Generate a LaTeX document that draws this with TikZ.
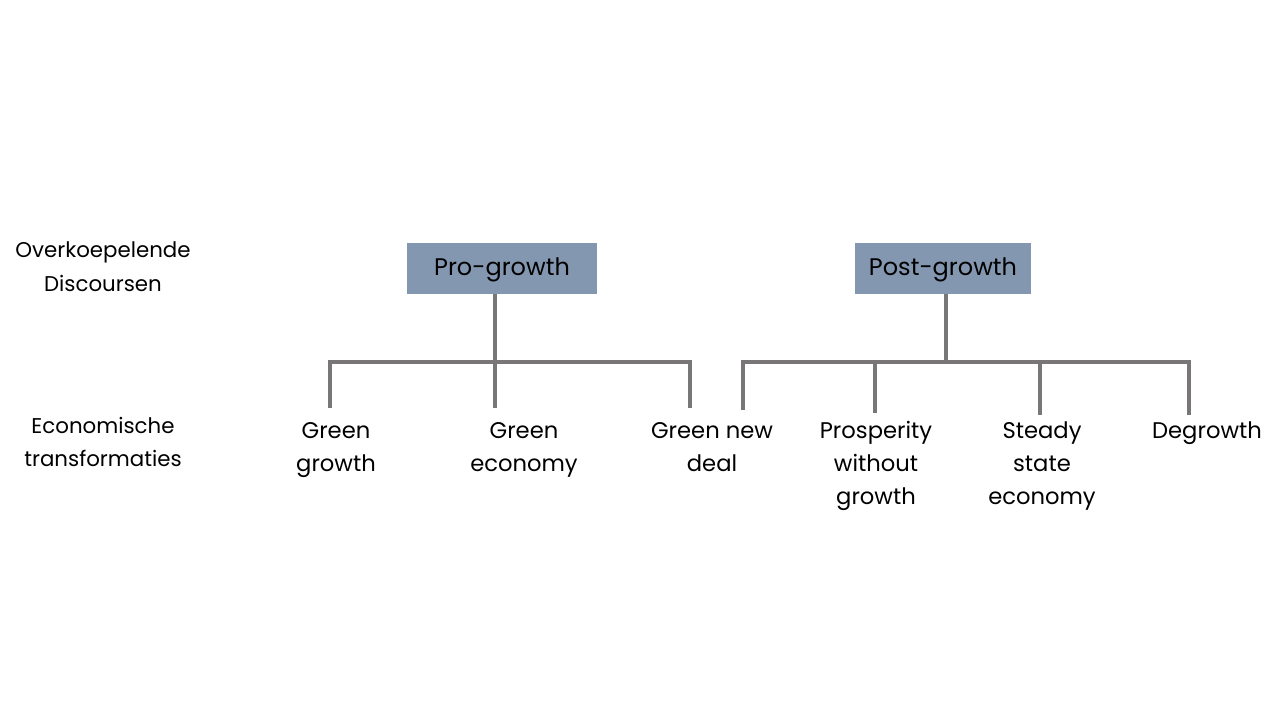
\documentclass[tikz,border=0pt]{standalone}
\usepackage{fontspec}
\setmainfont{Poppins}
\definecolor{boxblue}{RGB}{132,151,176}
\definecolor{linegray}{RGB}{120,118,118}
\tikzset{
  topbox/.style={fill=boxblue, minimum height=38.25pt, inner sep=0pt,
    text height=13pt, text depth=2pt, font=\fontsize{18}{22}\selectfont},
  branch/.style={draw=linegray, line width=3pt},
  leaf/.style={align=center, anchor=base, inner sep=0pt,
    font=\fontsize{17}{24.75}\selectfont},
  side/.style={align=center, anchor=base, inner sep=0pt,
    font=\fontsize{16}{24.75}\selectfont}
}
\begin{document}
\begin{tikzpicture}[x=0.75pt,y=-0.75pt]
	\useasboundingbox (0,0) rectangle (1280,720);
	% niveaus links
	\node[side] (lvltop) at (103,291) {Overkoepelende\\Discoursen};
	\node[side] (lvlbot) at (103,466) {Economische\\transformaties};
	% discoursen
	\node[topbox, minimum width=142.5pt] (pro) at (502,268.5) {Pro-growth};
	\node[topbox, minimum width=132pt] (post) at (943,268.5) {Post-growth};
	% transformaties
	\node[leaf] (gg) at (336,471) {Green\\growth};
	\node[leaf] (ge) at (524,471) {Green\\economy};
	\node[leaf] (gnd) at (712,471) {Green new\\deal};
	\node[leaf] (pw) at (876,504) {Prosperity\\without\\growth};
	\node[leaf] (ss) at (1042,504) {Steady\\state\\economy};
	\node[leaf] (dg) at (1207,438) {Degrowth};
	% verbindingen
	\coordinate (proj) at (495,362);
	\coordinate (postj) at (946,362);
	\foreach \n/\x/\y in {dgg/330/408, dge/495/408, dgnd/690/408,
		dgndb/743/410, dpw/875/413, dss/1040/415, ddg/1189/415}
		\coordinate (\n) at (\x,\y);
	\draw[branch] (pro.south -| proj) -- (proj);
	\draw[branch] (dgg) -- (dgg |- proj) -- (dgnd |- proj) -- (dgnd);
	\draw[branch] (dge) -- (dge |- proj);
	\draw[branch] (post.south -| postj) -- (postj);
	\draw[branch] (dgndb) -- (dgndb |- postj) -- (ddg |- postj) -- (ddg);
	\draw[branch] (dpw) -- (dpw |- postj);
	\draw[branch] (dss) -- (dss |- postj);
\end{tikzpicture}
\end{document}
